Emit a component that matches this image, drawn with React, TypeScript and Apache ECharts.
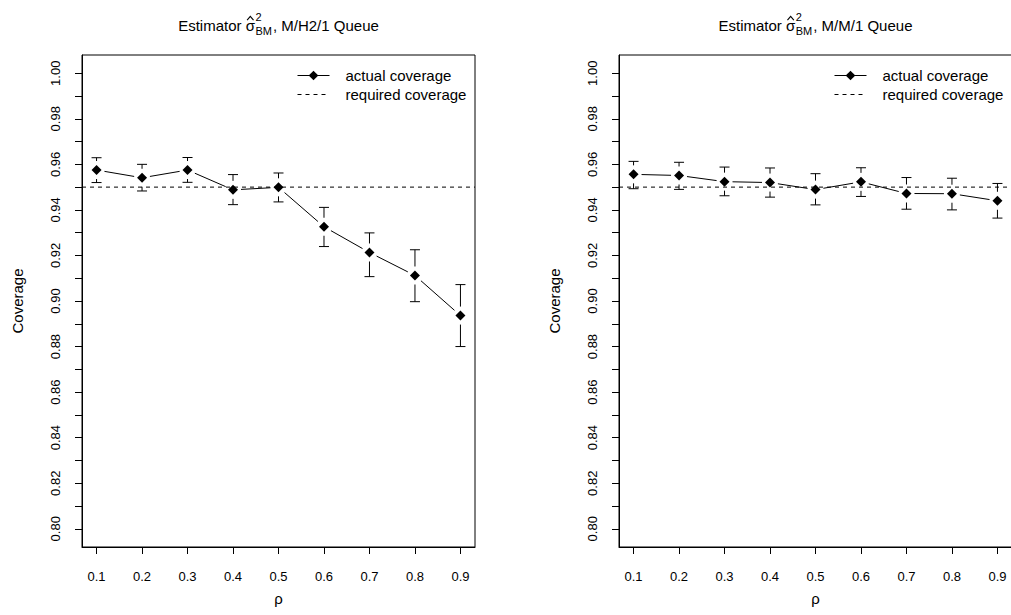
import React, { useEffect, useRef } from "react";
import * as echarts from "echarts";

// ---------- data ----------
const rho = [0.1, 0.2, 0.3, 0.4, 0.5, 0.6, 0.7, 0.8, 0.9];
const xTickValues = [0.1, 0.2, 0.3, 0.4, 0.5, 0.6, 0.7, 0.8, 0.9];
const yTickValues = [
  0.8, 0.81, 0.82, 0.83, 0.84, 0.85, 0.86, 0.87, 0.88, 0.89, 0.9, 0.91, 0.92,
  0.93, 0.94, 0.95, 0.96, 0.97, 0.98, 0.99, 1.0,
];
const yLabelValues = [0.8, 0.82, 0.84, 0.86, 0.88, 0.9, 0.92, 0.94, 0.96, 0.98, 1.0];
const requiredCoverage = 0.95;

const h2Actual = [0.9575, 0.9541, 0.9575, 0.9488, 0.9499, 0.9326, 0.9213, 0.9112, 0.8936];
const h2Upper = [0.9629, 0.96, 0.963, 0.9555, 0.9562, 0.9411, 0.9299, 0.9225, 0.9072];
const h2Lower = [0.952, 0.9483, 0.9521, 0.9423, 0.9435, 0.9239, 0.9107, 0.8997, 0.88];

const mm1Actual = [0.9556, 0.9551, 0.9524, 0.952, 0.9489, 0.9523, 0.9472, 0.9471, 0.944];
const mm1Upper = [0.9613, 0.9609, 0.9588, 0.9584, 0.9559, 0.9585, 0.9542, 0.9539, 0.9516];
const mm1Lower = [0.9493, 0.949, 0.9462, 0.9456, 0.9422, 0.9459, 0.9403, 0.94, 0.9364];

const queueNames = ["M/H2/1 Queue", "M/M/1 Queue"];
const xName = "\u03c1";
const yName = "Coverage";
const legendNames = ["actual coverage", "required coverage"];

// ---------- layout / style ----------
const FONT = '"Liberation Sans", Arial, Helvetica, sans-serif';
const PLOT_TOP = 55;
const PLOT_W = 393;
const PLOT_H = 492;
const PANEL_LEFTS = [82, 619];
const X_MIN = 0.068;
const X_MAX = 0.932;
const Y_MIN = 0.792;
const Y_MAX = 1.008;
const BAR_GAP = 9;
const CAP = 5;
const SEG_GAP = 8;
const TITLE_SIZE = 15;
const SCRIPT_SIZE = 11;
const TITLE_BASE = 30.5;

function measure(text: string, size: number): number {
  const c = document.createElement("canvas");
  const ctx = c.getContext("2d");
  if (!ctx) return text.length * size * 0.55;
  ctx.font = `${size}px "Liberation Sans", Arial, sans-serif`;
  return ctx.measureText(text).width;
}

function titleGraphic(queue: string, centerX: number): any {
  const p1 = "Estimator ";
  const sig = "\u03c3";
  const sup = "2";
  const sub = "BM";
  const p2 = ", " + queue;
  const w1 = measure(p1, TITLE_SIZE);
  const ws = measure(sig, TITLE_SIZE);
  const wsc = Math.max(measure(sup, SCRIPT_SIZE), measure(sub, SCRIPT_SIZE));
  const w2 = measure(p2, TITLE_SIZE);
  const total = w1 + ws + wsc + w2 + 1.5;
  const x0 = centerX - total / 2;
  const mid = (b: number, f: number) => b - 0.3465 * f;
  const base = { fill: "#000", fontFamily: FONT, verticalAlign: "middle", textAlign: "left" };
  const hatCx = x0 + w1 + ws / 2;
  return {
    type: "group",
    children: [
      { type: "text", x: x0, y: mid(TITLE_BASE, TITLE_SIZE), style: { ...base, text: p1, fontSize: TITLE_SIZE } },
      { type: "text", x: x0 + w1, y: mid(TITLE_BASE, TITLE_SIZE), style: { ...base, text: sig, fontSize: TITLE_SIZE } },
      {
        type: "polyline",
        shape: {
          points: [
            [hatCx - 3.2, 20.2],
            [hatCx, 16.4],
            [hatCx + 3.2, 20.2],
          ],
        },
        style: { stroke: "#000", lineWidth: 1.1, fill: null },
      },
      { type: "text", x: x0 + w1 + ws + 0.5, y: mid(TITLE_BASE - 9.5, SCRIPT_SIZE), style: { ...base, text: sup, fontSize: SCRIPT_SIZE } },
      { type: "text", x: x0 + w1 + ws + 0.5, y: mid(TITLE_BASE + 4.5, SCRIPT_SIZE), style: { ...base, text: sub, fontSize: SCRIPT_SIZE } },
      { type: "text", x: x0 + w1 + ws + wsc + 1.5, y: mid(TITLE_BASE, TITLE_SIZE), style: { ...base, text: p2, fontSize: TITLE_SIZE } },
    ],
  };
}

function buildOption(): any {
  const panels = [
    { actual: h2Actual, upper: h2Upper, lower: h2Lower },
    { actual: mm1Actual, upper: mm1Upper, lower: mm1Lower },
  ];
  const grid: any[] = [];
  const xAxis: any[] = [];
  const yAxis: any[] = [];
  const series: any[] = [];
  const legend: any[] = [];
  const graphic: any[] = [];

  panels.forEach((p, i) => {
    const left = PANEL_LEFTS[i];
    grid.push({
      left,
      top: PLOT_TOP,
      width: PLOT_W,
      height: PLOT_H,
      show: true,
      borderColor: "#000",
      borderWidth: 1,
      backgroundColor: "transparent",
      containLabel: false,
      outerBoundsMode: "none",
    });
    xAxis.push({
      type: "value",
      gridIndex: i,
      min: X_MIN,
      max: X_MAX,
      name: xName,
      nameLocation: "middle",
      nameGap: 44,
      nameTextStyle: { fontSize: 15, color: "#000", fontFamily: FONT },
      axisLine: { show: true, onZero: false, lineStyle: { color: "#000", width: 1 } },
      axisTick: { show: true, inside: false, length: 7, customValues: xTickValues, lineStyle: { color: "#000" } },
      axisLabel: {
        show: true,
        customValues: xTickValues,
        formatter: (v: number) => v.toFixed(1),
        fontSize: 13,
        color: "#000",
        fontFamily: FONT,
        margin: 23,
      },
      splitLine: { show: false },
    });
    yAxis.push({
      type: "value",
      gridIndex: i,
      min: Y_MIN,
      max: Y_MAX,
      name: yName,
      nameLocation: "middle",
      nameGap: 57,
      nameTextStyle: { fontSize: 15, color: "#000", fontFamily: FONT },
      axisLine: { show: true, onZero: false, lineStyle: { color: "#000", width: 1 } },
      axisTick: { show: true, inside: false, length: 7, customValues: yTickValues, lineStyle: { color: "#000" } },
      axisLabel: {
        show: true,
        customValues: yLabelValues,
        formatter: (v: number) => v.toFixed(2),
        rotate: 90,
        fontSize: 13,
        color: "#000",
        fontFamily: FONT,
        margin: 20,
      },
      splitLine: { show: false },
    });

    // error bars (with gap around point, like plotCI)
    series.push({
      type: "custom",
      xAxisIndex: i,
      yAxisIndex: i,
      silent: true,
      encode: { x: 0, y: [1, 2, 3] },
      data: rho.map((x, k) => [x, p.lower[k], p.upper[k], p.actual[k]]),
      renderItem: (_params: any, api: any) => {
        const x = api.value(0);
        const lo = api.coord([x, api.value(1)]);
        const hi = api.coord([x, api.value(2)]);
        const mid = api.coord([x, api.value(3)]);
        const cx = mid[0];
        const style = { stroke: "#000", lineWidth: 1, fill: null };
        const children: any[] = [];
        if (hi[1] < mid[1] - BAR_GAP)
          children.push({ type: "line", shape: { x1: cx, y1: hi[1], x2: cx, y2: mid[1] - BAR_GAP }, style });
        if (lo[1] > mid[1] + BAR_GAP)
          children.push({ type: "line", shape: { x1: cx, y1: mid[1] + BAR_GAP, x2: cx, y2: lo[1] }, style });
        children.push({ type: "line", shape: { x1: cx - CAP, y1: hi[1], x2: cx + CAP, y2: hi[1] }, style });
        children.push({ type: "line", shape: { x1: cx - CAP, y1: lo[1], x2: cx + CAP, y2: lo[1] }, style });
        return { type: "group", children };
      },
      z: 3,
    });

    // connecting segments (type "b": gaps near points)
    series.push({
      type: "custom",
      xAxisIndex: i,
      yAxisIndex: i,
      silent: true,
      encode: { x: [0, 2], y: [1, 3] },
      data: rho.slice(0, -1).map((x, k) => [x, p.actual[k], rho[k + 1], p.actual[k + 1]]),
      renderItem: (_params: any, api: any) => {
        const a = api.coord([api.value(0), api.value(1)]);
        const b = api.coord([api.value(2), api.value(3)]);
        const dx = b[0] - a[0];
        const dy = b[1] - a[1];
        const len = Math.hypot(dx, dy);
        if (len <= 2 * SEG_GAP) return null;
        const ux = dx / len;
        const uy = dy / len;
        return {
          type: "line",
          shape: {
            x1: a[0] + ux * SEG_GAP,
            y1: a[1] + uy * SEG_GAP,
            x2: b[0] - ux * SEG_GAP,
            y2: b[1] - uy * SEG_GAP,
          },
          style: { stroke: "#000", lineWidth: 1 },
        };
      },
      z: 3,
    });

    // points
    series.push({
      type: "line",
      name: legendNames[0],
      xAxisIndex: i,
      yAxisIndex: i,
      data: rho.map((x, k) => [x, p.actual[k]]),
      symbol: "diamond",
      symbolSize: 10,
      showSymbol: true,
      itemStyle: { color: "#000" },
      lineStyle: { color: "#000", width: 1, opacity: 0 },
      silent: true,
      z: 5,
    });

    // required coverage line
    series.push({
      type: "line",
      name: legendNames[1],
      xAxisIndex: i,
      yAxisIndex: i,
      data: [
        [X_MIN, requiredCoverage],
        [X_MAX, requiredCoverage],
      ],
      symbol: "none",
      silent: true,
      itemStyle: { color: "#000" },
      lineStyle: { color: "#000", width: 1, type: [4, 4] },
      z: 2,
    });

    legend.push({
      left: left + 215,
      top: 68,
      orient: "vertical",
      padding: 0,
      itemWidth: 32,
      itemHeight: 12,
      itemGap: 4,
      selectedMode: false,
      lineStyle: { opacity: 1, width: 1 },
      textStyle: { fontSize: 15, color: "#000", fontFamily: FONT, padding: [0, 0, 0, 11] },
      data: [
        { name: legendNames[0] },
        { name: legendNames[1], itemStyle: { opacity: 0 } },
      ],
    });

    graphic.push(titleGraphic(queueNames[i], left + PLOT_W / 2));
  });

  return {
    animation: false,
    backgroundColor: "#fff",
    textStyle: { fontFamily: FONT, color: "#000" },
    grid,
    xAxis,
    yAxis,
    series,
    legend,
    graphic,
  };
}

export default function App() {
  const ref = useRef<HTMLDivElement>(null);
  useEffect(() => {
    if (!ref.current) return;
    const chart = echarts.init(ref.current, null, { renderer: "svg" });
    chart.setOption(buildOption());
    return () => chart.dispose();
  }, []);
  return (
    <div
      ref={ref}
      style={{ position: "absolute", left: 0, top: 0, width: 1011, height: 615, background: "#fff" }}
    />
  );
}
